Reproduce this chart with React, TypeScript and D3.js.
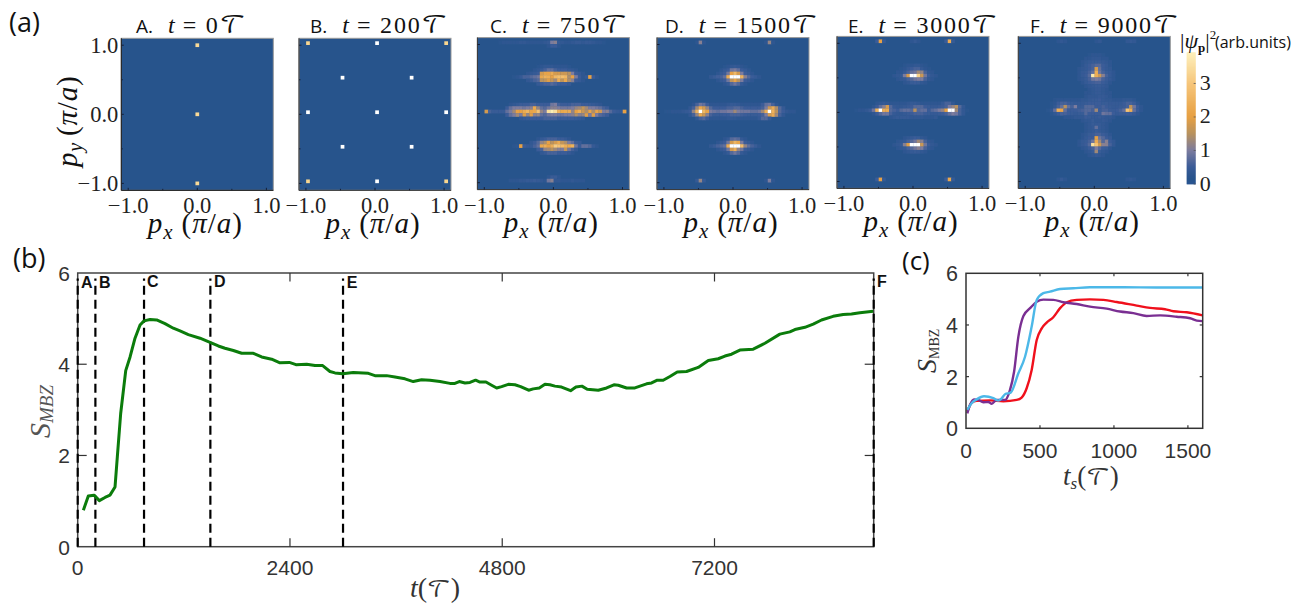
import React from "react";
import * as d3 from "d3";

type Row = [number, number, number[]];
type Pt = [number, number];

// ---- momentum maps: [row k_y, first column k_x, values] on a 0.05 grid, in arb. units
const mapA: Row[] = [[20, 0, [3.5]], [0, 0, [3.5]], [-20, 0, [3.5]]];
const mapB: Row[] = [
  [20, -20, [3.4]], [20, 0, [5]], [20, 20, [3.4]],
  [10, -10, [5]], [10, 10, [5]],
  [0, -20, [5]], [0, 0, [5]], [0, 20, [5]],
  [-10, -10, [5]], [-10, 10, [5]],
  [-20, -20, [3.4]], [-20, 0, [5]], [-20, 20, [3.4]],
];
const mapC: Row[] = [
  [20, -16, [.25, .3, .3, .3, .3, .3, .35, .35, .3, .3, .3, .3, .3, .35, .4, 1, 1.1, .4, .35, .3, .3, .35, .4, .4, .35, .4, .4, .35, .3, .3, .25]],
  [19, -2, [.3, .5, .5, .3]],
  [13, -5, [.25, .3, .35, .35, .35, .3, .3, .3, .3, .25]],
  [12, -6, [.3, .35, .45, .6, .8, .8, .6, .5, .5, .5, .4, .35, .3]],
  [11, -8, [.3, .35, .4, .5, 1.8, 2.1, 2.1, 2.3, 1.8, 1.8, 1.7, 1.7, 1.5, 1, .5, .4, .3]],
  [10, -12, [.25, .3, .4, .6, .6, .7, .8, .9, 2.2, 2.5, 2.4, 2, 2.7, 2.9, 2.9, 2.7, 1.4, 2, 1, .5, .3, .4, 2, .5, .3]],
  [9, -8, [.35, .45, .6, .7, 1.5, 1.6, 1.9, 1.6, 1.3, 2.3, 1.6, 2.2, 1.4, 1.1, .5, .4, .3]],
  [8, -5, [.4, .5, .6, .6, .7, .6, .5, .5, .5, .4]],
  [2, -13, [.3, .35, .4, .5, .5, .5, .6, .6, .5, .5, .5, .5, .9, 1, .6, .5, .5, .5, .6, .6, .6, .5, .5, .45, .4, .35, .3]],
  [1, -14, [.5, .8, 1, 1, 1, .9, 1, 1.1, 2.2, 1.2, .8, .7, .9, 1.1, 1.1, 1, .9, .9, .9, 1, 1.2, 1.3, 1.6, 1.3, 1, 1, .9, .8, .6, .5]],
  [0, -20, [1.8, .6, .45, .45, .45, .45, .8, 1, 1.3, 2, 2, 2.3, 2.6, 2.1, 2.2, 3, 1.2, 1, 3.6, 3.9, 3.6, 2.5, 2.2, 2.3, 2.3, 1.2, 2, 2.4, 1.7, 1.4, 2.1, 1.4, 2.1, 1.7, 1, 1.1, .7, .5, .4, .4, 2]],
  [-1, -14, [.5, .8, 1, 1.3, 1, 1.9, 1.2, 1.9, 1.1, 1.2, .8, .7, .9, 1, 1, .9, .9, 1, 1, 1.1, 1.4, 1.1, 1.2, 1.9, 1, 1.9, 1, .7, .6, .5]],
  [-2, -10, [.35, .4, .45, .5, .5, .5, .5, .6, .6, .6, .6, .5, .5, .5, .5, .5, .45, .4, .35]],
  [-8, -5, [.3, .4, .5, .6, .6, .6, .5, .5, .4, .3]],
  [-9, -7, [.35, .5, .7, 1.2, 1.4, 2, 1.5, 1.8, 2.3, 1.6, 1.4, 1, .8, .5, .4]],
  [-10, -12, [.25, .3, 2, .5, .4, .4, .6, .8, 2.2, 2.4, 2, 2.4, 3.2, 3, 2.8, 2.4, 2.2, 2.5, .9, .5, .8, .8, .7, .4, .3]],
  [-11, -5, [.5, .6, 1.2, 1.3, 1.5, 1.3, 1.1, 1, 1.6, .9, .6, .4]],
  [-12, -4, [.35, .45, .6, .6, .6, .5, .5, .5, .4, .3]],
  [-19, -2, [.3, .45, .45, .3]],
  [-20, -13, [.3, .3, .3, .35, .35, .4, .4, .45, .4, .35, .3, .9, 1.1, .35, .35, .3, .3, .3, .35, .3, .3, .3]],
];
const mapD: Row[] = [
  [20, -11, [.3, 1.1, .3]], [20, 9, [.3, 1.2, .3]],
  [13, -3, [.25, .3, .35, .4, .35, .3, .25]],
  [12, -4, [.3, .4, .5, .9, 1, .8, .5, .4, .3]],
  [11, -5, [.3, .4, .5, .9, 2, 2.7, 1.8, 1, .5, .4, .3]],
  [10, -7, [.35, .45, .55, .6, .8, 2.3, 4.6, 5, 4.6, 2.5, 1.1, .7, .5, .4, .3]],
  [9, -5, [.3, .4, .5, .9, 1.6, 2.1, 1.5, 1, .5, .4, .3]],
  [8, -3, [.3, .4, .7, .9, .7, .4, .3]],
  [2, -12, [.3, .6, .9, .8, .5, .3, .3, .3, .3, .3, .35, .4, .4, .35, .3, .3, .3, .3, .3, .3, .5, .8, .9, .6, .3]],
  [1, -13, [.35, .6, 1.3, 2.2, 1.8, 1.2, .7, .5, .5, .5, .5, .6, .6, .7, .7, .6, .5, .5, .5, .5, .5, .6, 1, 1.7, 2.3, 1.4, .7, .4]],
  [0, -20, [.25, .25, .3, .3, .3, .35, .4, .5, 1.2, 2.5, 4.8, 2.7, 2.1, 1, .9, .8, .9, .9, 1, 1, 1.3, 1, .9, .9, .9, .8, .8, .9, 1.3, 2.4, 4.8, 2.5, 1.5, .7, .5, .35, .3, .3]],
  [-1, -13, [.35, .6, 1.2, 2.2, 1.7, 1.1, .6, .45, .45, .45, .5, .5, .6, .6, .6, .55, .5, .45, .45, .45, .5, .6, 1, 1.8, 2.3, 1.3, .6, .35]],
  [-2, -11, [.35, .6, .7, .5, .3, .3, .3, .3, .3, .35, .35, .35, .3, .3, .3, .3, .3, .3, .4, .7, .7, .4]],
  [-8, -3, [.3, .4, .7, .8, .7, .4, .3]],
  [-9, -5, [.3, .4, .5, .9, 1.8, 2.6, 2.2, 1, .5, .4, .3]],
  [-10, -7, [.35, .45, .6, .7, .8, 2.3, 4.6, 5, 5, 2.8, 1.2, .8, .6, .45, .3]],
  [-11, -5, [.3, .4, .5, .9, 1.8, 2.4, 1.2, .9, .5, .4, .3]],
  [-12, -3, [.3, .4, .7, .9, .7, .4, .3]],
  [-20, -11, [.4, 1.2, .4]], [-20, 9, [.3, 1, .3]],
];
const mapE: Row[] = [
  [20, -11, [.5, 2, .4]], [20, -1, [.3, .4, .3]], [20, 9, [.5, 2.3, .4]],
  [13, -3, [.25, .3, .3, .35, .35, .3, .25]],
  [12, -4, [.25, .3, .4, .5, .6, .6, .4, .3, .25]],
  [11, -5, [.3, .3, .4, .6, .8, .9, 1.3, 1.2, .6, .35, .3]],
  [10, -6, [.3, .35, .4, 1, 1.8, 5, 5, 3.3, 1.7, .9, .5, .35, .3]],
  [9, -5, [.3, .35, .4, .6, .7, .9, 1, 1, .6, .35, .3]],
  [8, -3, [.3, .35, .45, .5, .45, .35, .3]],
  [2, -11, [.3, .35, .4, .35, .3, .3, .3, .3, .3, .35, .4, .4, .35, .3, .3, .3, .3, .3, .3, .4, .6, .6, .35]],
  [1, -12, [.3, .5, .8, 1.1, 1.8, .7, .4, .35, .35, .4, .45, .5, .7, .7, .7, .5, .45, .4, .4, .45, .5, .6, 1, 1.2, 1.5, .7, .35]],
  [0, -17, [.25, .3, .3, .35, .5, .9, 2.5, 5, 2.4, 2.3, .7, .6, .5, .7, .8, .8, .7, 1.5, .7, .8, .8, .5, .7, .8, 1, 1.2, 2, 5, 4.6, 1.3, .6, .35, .25]],
  [-1, -12, [.3, .5, .7, .9, .9, .6, .4, .35, .35, .4, .45, .5, .6, .6, .6, .5, .45, .4, .4, .45, .5, .6, .8, 1, .9, .6, .35]],
  [-2, -7, [.3, .35, .4, .4, .4, .4, .35, .35, .35, .35, .3, .3, .3, .35]],
  [-8, -3, [.3, .35, .4, .5, .45, .35, .3]],
  [-9, -5, [.3, .35, .4, .6, .7, .9, 1.3, 1.1, .6, .35, .3]],
  [-10, -6, [.3, .35, .45, 1.1, 1.9, 5, 5, 4.6, 1.7, .9, .5, .35, .3]],
  [-11, -5, [.3, .35, .4, .6, .7, .9, 1.1, 1, .6, .35, .3]],
  [-12, -3, [.3, .35, .4, .45, .4, .35, .3]],
  [-20, -11, [.5, 2, .4]], [-20, 9, [.5, 2.2, .4]],
];
const mapF: Row[] = [
  [20, -11, [.3, .35, .3]], [20, 0, [.3, .35]], [20, 9, [.35, .4, .35]],
  [16, -2, [.25, .3, .3, .3, .25]],
  [15, -3, [.3, .3, .35, .35, .35, .3, .3]],
  [14, -4, [.3, .35, .4, .45, .45, .45, .4, .35, .3]],
  [13, -4, [.3, .4, .5, .6, .7, .7, .5, .4, .3]],
  [12, -5, [.3, .35, .4, .5, .6, 1.8, .8, .5, .4, .35]],
  [11, -5, [.3, .4, .45, .6, .8, 2.4, .9, .6, .45, .4, .3]],
  [10, -5, [.3, .4, .5, .7, 3.8, 2.4, 1.7, 1.1, .6, .4, .3]],
  [9, -5, [.3, .35, .45, .6, .9, 1, .9, .6, .5, .4, .3]],
  [8, -4, [.3, .4, .5, .55, .6, .6, .5, .4, .3]],
  [7, -3, [.3, .35, .4, .45, .45, .4, .35]],
  [6, -2, [.3, .35, .4, .4, .35, .3]],
  [5, -3, [.3, .3, .35, .4, .4, .35, .3, .3]],
  [4, -3, [.3, .35, .35, .35, .4, .4, .35, .3]],
  [3, -12, [.25, .3, .3, .3, .3, .3, .3, .3, .35, .35, .4, .45, .45, .5, .4, .35, .35, .3, .3, .3, .35, .35, .35, .3]],
  [2, -13, [.25, .3, .5, .6, .6, .5, .45, .4, .4, .4, .45, .5, .5, .5, .5, .45, .45, .4, .4, .4, .4, .5, .6, .6, .5, .3]],
  [1, -13, [.25, .35, .6, .8, 1.5, .8, .6, 1, .45, .45, .7, .7, .7, .5, .5, .6, .5, .45, .4, .4, .45, .5, .6, 1.6, .9, .5, .3]],
  [0, -14, [.25, .35, .8, 2.4, 2.1, .8, .5, .5, .5, .55, .6, .7, .7, .6, 1.3, .5, .6, .6, .5, .45, .5, .6, .8, 3, 2.4, .8, .5, .3]],
  [-1, -13, [.25, .35, .5, .6, .6, .5, .45, .4, .45, .45, .7, .5, .5, .5, .5, .9, .8, .8, .5, .4, .45, .45, .5, .5, .4, .3]],
  [-2, -9, [.3, .3, .3, .35, .35, .35, .5, .45, .4, .4, .45, .4, .35, .35, .3]],
  [-3, -4, [.3, .35, .35, .45, .35, .35, .4, .35, .3]],
  [-4, -3, [.3, .35, .45, .4, .4, .35, .3]],
  [-5, -3, [.3, .35, .4, .8, .4, .35, .3]],
  [-6, -3, [.3, .35, .4, .5, .4, .35, .3]],
  [-7, -4, [.3, .35, .45, .5, .6, .6, .5, .4, .3]],
  [-8, -4, [.3, .4, .5, .5, 2, .9, .7, .5, .4]],
  [-9, -5, [.3, .4, .45, .6, .9, 2.3, 1.3, .7, 1.1, .5, .35]],
  [-10, -5, [.3, .4, .5, .7, 3.6, 3, 1.7, 1.1, 1.1, .6, .35]],
  [-11, -4, [.3, .35, .5, .6, 1, .7, .5, .45, .3]],
  [-12, -3, [.3, .35, .45, 1.3, .45, .35, .3]],
  [-13, -2, [.3, .35, .4, .35, .3]],
  [-20, -11, [.3, .4, .3]], [-20, 9, [.3, .35, .3]],
];

const maps = [mapA, mapB, mapC, mapD, mapE, mapF];
const panelLetters = ["A", "B", "C", "D", "E", "F"];
const panelTimes = ["0", "200", "750", "1500", "3000", "9000"];
const mapTicks = [-1, 0, 1];
const minorMapTicks = [-1, -0.5, 0, 0.5, 1];
const colorTicks = [0, 1, 2, 3];

// ---- entropy curves
const markTimes = [0, 200, 750, 1500, 3000, 9000];
const bTicksX = [0, 2400, 4800, 7200];
const bTicksY = [0, 2, 4, 6];
const entropy: Pt[] = [
  [64, .8], [120, 1.11], [185, 1.13], [245, 1.01], [309, 1.08], [365, 1.13], [422, 1.31], [448, 1.97], [486, 2.92], [543, 3.86],
  [592, 4.16], [648, 4.57], [705, 4.86], [750, 4.95], [818, 4.98], [893, 4.97], [987, 4.89], [1081, 4.79], [1157, 4.73], [1251, 4.65],
  [1383, 4.57], [1496, 4.48], [1590, 4.4], [1665, 4.35], [1760, 4.3], [1854, 4.24], [1986, 4.24], [2080, 4.16], [2193, 4.11], [2287, 4.03],
  [2393, 4.04], [2468, 3.99], [2589, 4], [2683, 3.97], [2770, 3.97], [2852, 3.84], [2909, 3.81], [2995, 3.79], [3116, 3.82], [3286, 3.8],
  [3361, 3.75], [3493, 3.75], [3587, 3.72], [3700, 3.68], [3794, 3.62], [3888, 3.66], [3983, 3.65], [4096, 3.62], [4209, 3.58], [4265, 3.58],
  [4314, 3.62], [4379, 3.59], [4435, 3.6], [4499, 3.65], [4548, 3.61], [4616, 3.61], [4680, 3.54], [4737, 3.48], [4793, 3.51], [4868, 3.56],
  [4944, 3.55], [5008, 3.51], [5098, 3.43], [5151, 3.46], [5219, 3.48], [5283, 3.56], [5339, 3.55], [5396, 3.52], [5471, 3.5], [5573, 3.42],
  [5633, 3.5], [5701, 3.52], [5761, 3.45], [5886, 3.43], [5980, 3.48], [6063, 3.55], [6112, 3.54], [6206, 3.48], [6300, 3.48], [6432, 3.57],
  [6489, 3.59], [6553, 3.65], [6620, 3.65], [6696, 3.73], [6779, 3.83], [6884, 3.84], [7016, 3.93], [7130, 4.08], [7242, 4.12], [7318, 4.18],
  [7393, 4.22], [7487, 4.31], [7638, 4.33], [7770, 4.46], [7939, 4.66], [8052, 4.71], [8109, 4.76], [8222, 4.81], [8316, 4.88], [8410, 4.97],
  [8541, 5.05], [8655, 5.09], [8749, 5.1], [8844, 5.13], [8994, 5.16],
];
const cTicksX = [0, 500, 1000, 1500];
const cTicksY = [0, 2, 4, 6];
const redCurve: Pt[] = [
  [9, .65], [38, .99], [72, 1.06], [162, 1.08], [252, 1.05], [343, 1.1], [376, 1.19], [410, 1.55], [444, 2.26], [478, 3.42], [512, 3.87],
  [545, 4.09], [590, 4.3], [636, 4.65], [681, 4.88], [748, 4.97], [838, 4.99], [929, 4.97], [1019, 4.89], [1154, 4.75], [1244, 4.66],
  [1345, 4.61], [1402, 4.53], [1492, 4.49], [1600, 4.37],
];
const purpleCurve: Pt[] = [
  [9, .58], [27, .9], [54, 1.12], [83, 1.1], [117, 1.01], [151, 1.02], [174, .95], [207, 1.1], [264, 1.1], [297, 1.48], [325, 2.19],
  [354, 3.55], [388, 4.35], [433, 4.65], [478, 4.9], [523, 4.98], [590, 4.97], [658, 4.88], [748, 4.81], [838, 4.71], [951, 4.63],
  [1041, 4.52], [1131, 4.46], [1221, 4.35], [1312, 4.37], [1424, 4.32], [1515, 4.26], [1560, 4.17], [1600, 4.15],
];
const blueCurve: Pt[] = [
  [9, .71], [38, .97], [72, 1.12], [122, 1.24], [185, 1.17], [219, 1.07], [241, 1.16], [264, 1.32], [302, 1.38], [354, 2.13], [399, 2.77],
  [444, 3.94], [478, 4.97], [523, 5.23], [568, 5.29], [636, 5.39], [726, 5.42], [838, 5.46], [1064, 5.46], [1289, 5.45], [1600, 5.45],
];

// ---- layout
const panelBoxes = [
  { x: 121.3, y: 38.3, off: 0 },
  { x: 299, y: 38.3, off: 0.03 },
  { x: 477.4, y: 37.6, off: 0.03 },
  { x: 657, y: 37.6, off: 0.03 },
  { x: 837, y: 36.4, off: 0.03 },
  { x: 1018.3, y: 36.4, off: 0.03 },
];
const titleX = [136, 310, 490, 665, 848, 1030];
const panelSize = 152;

const heatColor = d3
  .scaleLinear<string>()
  .domain([0, 0.15, 0.5, 1, 1.5, 2, 3, 3.9, 4.5])
  .range(["#2a5592", "#27548c", "#3a5c98", "#7c7c9e", "#b8925f", "#e7a144", "#f5c272", "#fdeeb4", "#ffffff"])
  .clamp(true);

const SERIF = "'Liberation Serif', serif";
const SANS = "'Liberation Sans', sans-serif";
const UI = "'Open Sans', sans-serif";
const MATHF = "'DejaVu Math TeX Gyre', 'DejaVu Sans', serif";
const SCRIPT_T = "\u{1D4AF}";

function PText({ x, y, size = 29 }: { x: number; y: number; size?: number }) {
  return (
    <text x={x} y={y} fontFamily={SERIF} fontSize={size} textAnchor="middle" fill="#111" letterSpacing={1}>
      <tspan fontStyle="italic">p</tspan>
      <tspan fontStyle="italic" fontSize={size * 0.72} dy={size * 0.2}>x</tspan>
      <tspan dy={-size * 0.2} dx={8}>(</tspan>
      <tspan fontStyle="italic">π</tspan>
      <tspan>/</tspan>
      <tspan fontStyle="italic">a</tspan>
      <tspan>)</tspan>
    </text>
  );
}

function MapPanel({ index }: { index: number }) {
  const box = panelBoxes[index];
  const x = d3.scaleLinear().domain([-1.1, 1.1]).range([box.x, box.x + panelSize]);
  const y = d3.scaleLinear().domain([-1.1, 1.1]).range([box.y + panelSize, box.y]);
  const step = 0.05;
  const w = x(step) - x(0) + 0.25;
  const cells = maps[index].flatMap(([ky, k0, vals]) =>
    vals.map((v, i) => ({ px: (k0 + i) * step + box.off, py: ky * step + box.off, v }))
  );
  const clipId = `clip-${index}`;
  const fmt = d3.format(".1f");
  const labelY = box.y + 175;
  return (
    <g>
      <clipPath id={clipId}>
        <rect x={box.x} y={box.y} width={panelSize} height={panelSize} />
      </clipPath>
      <rect x={box.x} y={box.y} width={panelSize} height={panelSize} fill={heatColor(0.15)} />
      <g clipPath={`url(#${clipId})`} filter="url(#soft)">
        {cells.map((c, i) => (
          <rect key={i} x={x(c.px) - w / 2} y={y(c.py) - w / 2} width={w} height={w} fill={heatColor(c.v)} />
        ))}
      </g>
      <rect x={box.x} y={box.y} width={panelSize} height={panelSize} fill="none" stroke="#9a9a9a" strokeWidth={1} />
      <path d={`M${box.x},${box.y} V${box.y + panelSize} H${box.x + panelSize}`} fill="none" stroke={index === 0 ? "#111" : "#333"} strokeWidth={1} />
      {minorMapTicks.map((t) => (
        <g key={t} stroke="#16213a" strokeWidth={1}>
          <line x1={x(t)} x2={x(t)} y1={box.y + panelSize} y2={box.y + panelSize - (t * 2 % 2 === 0 ? 2.5 : 1.5)} />
          <line x1={box.x} x2={box.x + (t * 2 % 2 === 0 ? 2.5 : 1.5)} y1={y(t)} y2={y(t)} />
        </g>
      ))}
      {mapTicks.map((t) => (
        <text key={t} x={x(t)} y={labelY} textAnchor="middle" fontFamily={SERIF} fontSize={22.5} fill="#222">
          {fmt(t).replace("-", "\u2212")}
        </text>
      ))}
      {index === 0 &&
        mapTicks.map((t) => (
          <text key={t} x={box.x - 3} y={y(t) + 7.5} textAnchor="end" fontFamily={SERIF} fontSize={22.5} fill="#222">
            {fmt(t).replace("-", "\u2212")}
          </text>
        ))}
      <PText x={box.x + panelSize / 2 - 2} y={box.y + 194.5} />
      <text x={titleX[index]} y={32.5} fontFamily={UI} fontSize={19} fill="#111">
        {panelLetters[index]}.
        <tspan dx={15} fontFamily={SERIF} fontSize={24} fontStyle="italic">t</tspan>
        <tspan fontFamily={SERIF} fontSize={24} dx={8} letterSpacing={1.8}>= {panelTimes[index]}</tspan>
        <tspan fontFamily={MATHF} fontSize={25}>{SCRIPT_T}</tspan>
      </text>
    </g>
  );
}

function Colorbar() {
  const left = 1186.7;
  const width = 9;
  const y = d3.scaleLinear().domain([0, 3.93]).range([184, 52.3]);
  const steps = d3.range(0, 3.93, 0.03);
  return (
    <g>
      {steps.map((v) => (
        <rect key={v} x={left} y={y(v + 0.03)} width={width} height={Math.abs(y(0) - y(0.03)) + 0.4} fill={heatColor(v)} />
      ))}
      {colorTicks.map((t) => (
        <g key={t}>
          <line x1={left + width - 2} x2={left + width} y1={y(t)} y2={y(t)} stroke="#555" strokeWidth={0.8} />
          <text x={left + width + 4} y={y(t) + 6.5} fontFamily={SERIF} fontSize={22} fill="#222">{t}</text>
        </g>
      ))}
      <text x={1180} y={48} fontFamily={SERIF} fontSize={22} fill="#111">
        |<tspan fontStyle="italic">ψ</tspan>
        <tspan fontWeight="bold" fontSize={13} dy={4}>p</tspan>
        <tspan dy={-4}>|</tspan>
        <tspan fontSize={13} dy={-9}>2</tspan>
      </text>
      <text x={1215} y={48} fontFamily={UI} fontSize={16} fill="#111">(arb.units)</text>
    </g>
  );
}

function EntropyPanel() {
  const left = 77.7, right = 873.7, top = 273, bottom = 546.7;
  const x = d3.scaleLinear().domain([0, 9000]).range([left, right]);
  const y = d3.scaleLinear().domain([0, 6]).range([bottom, top]);
  const line = d3.line<Pt>().x((d) => x(d[0])).y((d) => y(d[1]));
  const letterX = [81, 99, 147, 214, 346.7, 877];
  const letterY = [288, 288, 287, 287, 288, 287];
  return (
    <g>
      <rect x={left} y={top} width={right - left} height={bottom - top} fill="none" stroke="#444" strokeWidth={1.5} />
      {bTicksX.slice(1).map((t) => (
        <g key={t} stroke="#333" strokeWidth={1.2}>
          <line x1={x(t)} x2={x(t)} y1={bottom} y2={bottom - 8.5} />
          <line x1={x(t)} x2={x(t)} y1={top} y2={top + 8.5} />
        </g>
      ))}
      {[2, 4].map((t) => (
        <g key={t} stroke="#333" strokeWidth={1.2}>
          <line x1={left} x2={left + 9} y1={y(t)} y2={y(t)} />
          <line x1={right} x2={right - 9} y1={y(t)} y2={y(t)} />
        </g>
      ))}
      {bTicksX.map((t) => (
        <text key={t} x={x(t)} y={575} textAnchor="middle" fontFamily={SANS} fontSize={21} fill="#333">{t}</text>
      ))}
      {bTicksY.map((t) => (
        <text key={t} x={70} y={y(t) + 8} textAnchor="end" fontFamily={SANS} fontSize={21} fill="#333">{t}</text>
      ))}
      {markTimes.map((t) => (
        <line key={t} x1={x(t)} x2={x(t)} y1={y(0)} y2={y(5.88)} stroke="#000" strokeWidth={2.2} strokeDasharray="9 5" />
      ))}
      <path d={line(entropy) ?? ""} fill="none" stroke="#0b7c0b" strokeWidth={3} strokeLinejoin="round" />
      {panelLetters.map((l, i) => (
        <text key={l} x={letterX[i]} y={letterY[i]} fontFamily={SANS} fontWeight="bold" fontSize={16} fill="#111">{l}</text>
      ))}
      <text transform="translate(50,438) rotate(-90)" fontFamily={SERIF} fontStyle="italic" fontSize={30} fill="#555">
        S<tspan fontSize={19} dy={3}>MBZ</tspan>
      </text>
      <text x={410} y={597} fontFamily={SERIF} fontSize={28} fill="#333">
        <tspan fontStyle="italic">t</tspan>(
        <tspan fontFamily={MATHF} fontSize={23}>{SCRIPT_T}</tspan>)
      </text>
    </g>
  );
}

function QuenchPanel() {
  const left = 966, right = 1202.7, top = 273.3, bottom = 428.3;
  const x = d3.scaleLinear().domain([0, 1600]).range([left, right]);
  const y = d3.scaleLinear().domain([0, 6]).range([bottom, top]);
  const line = d3.line<Pt>().x((d) => x(d[0])).y((d) => y(d[1])).curve(d3.curveMonotoneX);
  return (
    <g>
      <path d={line(redCurve) ?? ""} fill="none" stroke="#f0101c" strokeWidth={2.4} />
      <path d={line(purpleCurve) ?? ""} fill="none" stroke="#7a2f92" strokeWidth={2.4} />
      <path d={line(blueCurve) ?? ""} fill="none" stroke="#4cb8e8" strokeWidth={2.4} />
      <rect x={left} y={top} width={right - left} height={bottom - top} fill="none" stroke="#333" strokeWidth={1.5} />
      {cTicksX.slice(1).map((t) => (
        <g key={t} stroke="#333" strokeWidth={1.2}>
          <line x1={x(t)} x2={x(t)} y1={bottom} y2={bottom - 3} />
          <line x1={x(t)} x2={x(t)} y1={top} y2={top + 3} />
        </g>
      ))}
      {[2, 4].map((t) => (
        <g key={t} stroke="#333" strokeWidth={1.2}>
          <line x1={left} x2={left + 3} y1={y(t)} y2={y(t)} />
          <line x1={right} x2={right - 3} y1={y(t)} y2={y(t)} />
        </g>
      ))}
      {cTicksX.map((t) => (
        <text key={t} x={x(t)} y={458} textAnchor="middle" fontFamily={SANS} fontSize={21} fill="#333">{t}</text>
      ))}
      {cTicksY.map((t) => (
        <text key={t} x={958} y={y(t) + 8} textAnchor="end" fontFamily={SANS} fontSize={21.5} fill="#333">{t}</text>
      ))}
      <text transform="translate(936,373) rotate(-90)" fontFamily={SERIF} fill="#333">
        <tspan fontStyle="italic" fontSize={28}>S</tspan>
        <tspan fontSize={14} dy={3}>MBZ</tspan>
      </text>
      <text x={1063} y={485} fontFamily={SERIF} fontSize={27} fill="#333">
        <tspan fontStyle="italic">t</tspan>
        <tspan fontStyle="italic" fontSize={17} dy={4}>s</tspan>
        <tspan dy={-4}>(</tspan>
        <tspan fontFamily={MATHF} fontSize={23}>{SCRIPT_T}</tspan>)
      </text>
    </g>
  );
}

export default function App() {
  return (
    <svg width={1312} height={603} viewBox="0 0 1312 603" style={{ position: "absolute", left: 0, top: 0, background: "#fff" }}>
      <defs>
        <filter id="soft" x="-5%" y="-5%" width="110%" height="110%">
          <feGaussianBlur stdDeviation="0.3" />
        </filter>
      </defs>
      <text x={9} y={32} fontFamily={UI} fontSize={27} fill="#111">(a)</text>
      <text x={13} y={268} fontFamily={UI} fontSize={27} fill="#111">(b)</text>
      <text x={902} y={270} fontFamily={UI} fontSize={26} fill="#111">(c)</text>
      {maps.map((_, i) => <MapPanel key={i} index={i} />)}
      <text transform="translate(77,167) rotate(-90)" fontFamily={SERIF} fontSize={29} fill="#111" letterSpacing={0.8}>
        <tspan fontStyle="italic">p</tspan>
        <tspan fontStyle="italic" fontSize={20} dy={5}>y</tspan>
        <tspan dy={-5} dx={6}>(</tspan>
        <tspan fontStyle="italic">π</tspan>/<tspan fontStyle="italic">a</tspan>)
      </text>
      <Colorbar />
      <EntropyPanel />
      <QuenchPanel />
    </svg>
  );
}
